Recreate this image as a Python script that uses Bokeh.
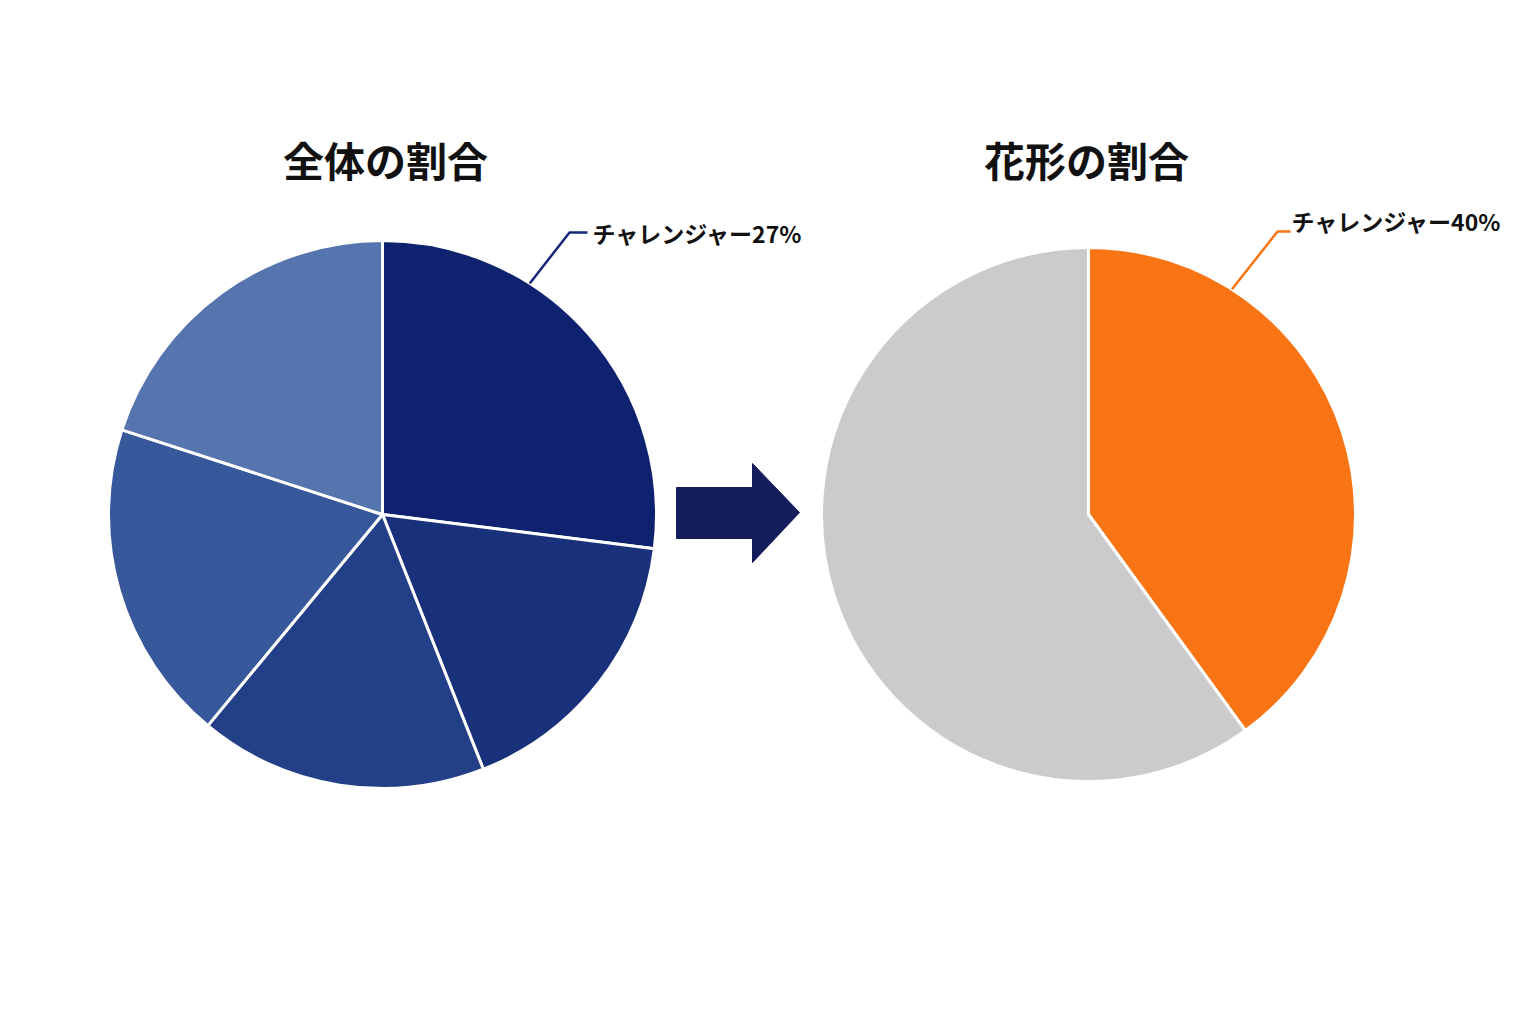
import math
from bokeh.plotting import figure
from bokeh.models import Range1d
from bokeh.core.properties import value
from bokeh.embed import file_html
from bokeh.resources import INLINE

# ---- data ----
left_title = "全体の割合"
right_title = "花形の割合"
left_labels = ["チャレンジャー", "B", "C", "D", "E"]
left_values = [27, 17, 17, 19, 20]
left_colors = ["#0f2270", "#19307a", "#233f87", "#37589b", "#5674ad"]
right_labels = ["チャレンジャー", "その他"]
right_values = [40, 60]
right_colors = ["#f97415", "#cbcbcd"]
left_callout = "チャレンジャー27%"
right_callout = "チャレンジャー40%"

W, H = 1520, 1008
FONT = value("Noto Sans CJK JP")


def Y(py):
    return 1024 - py


p = figure(width=W, height=H, output_backend="svg", toolbar_location=None,
           x_range=Range1d(0, W), y_range=Range1d(1024 - H, 1024),
           min_border=0, outline_line_color=None, background_fill_color="white",
           border_fill_color="white")
p.axis.visible = False
p.grid.visible = False


def pie(cx, cy, r, vals, cols):
    total = float(sum(vals))
    cum = 0.0
    starts, ends = [], []
    for v in vals:
        a0 = math.pi / 2 - 2 * math.pi * (cum + v) / total
        a1 = math.pi / 2 - 2 * math.pi * cum / total
        starts.append(a0)
        ends.append(a1)
        cum += v
    p.wedge(x=[cx] * len(vals), y=[cy] * len(vals), radius=r,
            start_angle=starts, end_angle=ends, fill_color=cols,
            line_color="white", line_width=3)


lcx, lcy, lr = 382, Y(514), 274
rcx, rcy, rr = 1088, Y(514), 267
pie(lcx, lcy, lr, left_values, left_colors)
pie(rcx, rcy, rr, right_values, right_colors)

# titles
p.text(x=[385], y=[Y(158)], text=[left_title], text_font=FONT, text_font_style="bold",
       text_font_size="41px", text_align="center", text_baseline="middle", text_color="#111111")
p.text(x=[1086], y=[Y(158)], text=[right_title], text_font=FONT, text_font_style="bold",
       text_font_size="41px", text_align="center", text_baseline="middle", text_color="#111111")

# leader lines
ang = math.radians(32.5)
lx0, ly0 = lcx + lr * math.sin(ang), lcy + lr * math.cos(ang)
p.line(x=[lx0, 569, 587], y=[ly0, Y(232), Y(232)], line_color="#16277a", line_width=2.5)
rx0, ry0 = rcx + rr * math.sin(ang), rcy + rr * math.cos(ang)
p.line(x=[rx0, 1277, 1290], y=[ry0, Y(231), Y(231)], line_color="#f97415", line_width=2.5)

p.text(x=[592], y=[Y(232)], text=[left_callout], text_font=FONT, text_font_style="bold",
       text_font_size="23px", text_align="left", text_baseline="middle", text_color="#111111")
p.text(x=[1291], y=[Y(220)], text=[right_callout], text_font=FONT, text_font_style="bold",
       text_font_size="23px", text_align="left", text_baseline="middle", text_color="#111111")

# arrow
ax = [676, 752, 752, 799, 752, 752, 676]
ay = [Y(487), Y(487), Y(463), Y(512), Y(562), Y(538), Y(538)]
p.patch(x=ax, y=ay, fill_color="#141c5c", line_color="#141c5c", line_width=1)

open("out.html", "w").write(file_html(p, INLINE))
